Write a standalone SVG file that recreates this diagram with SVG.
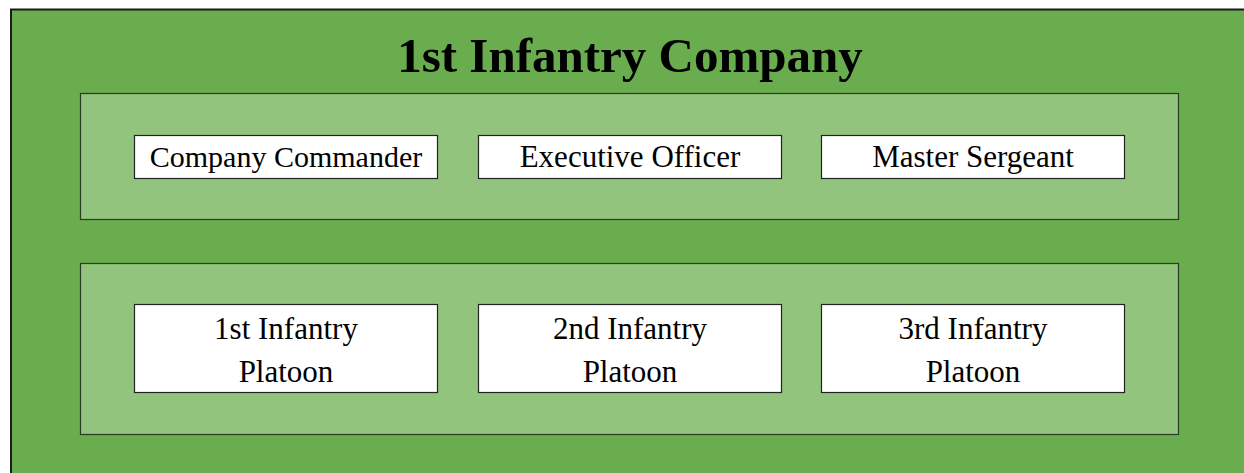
<svg xmlns="http://www.w3.org/2000/svg" width="1244" height="473" viewBox="0 0 1244 473">
<style>
.outer{fill:#6aad4e;stroke:#1a1a1a;stroke-width:2}
.panel{fill:#93c47d;stroke:#2a3a24;stroke-width:1.2}
.box{fill:#ffffff;stroke:#222;stroke-width:1.2}
.title{font-family:"Liberation Serif","Times New Roman",serif;font-weight:bold;font-size:49px;fill:#000;text-anchor:middle}
.lbl{font-family:"Liberation Serif","Times New Roman",serif;font-size:31px;fill:#000;text-anchor:middle}
.lbl2{font-family:"Liberation Serif","Times New Roman",serif;font-size:31px;fill:#000;text-anchor:middle}
</style>
<rect x="0" y="0" width="1244" height="473" fill="#ffffff"/>
<g id="company">
<rect class="outer" x="11" y="9.5" width="1300" height="500"/>
<text class="title" x="630" y="72">1st Infantry Company</text>
</g>
<g id="hq-panel">
<rect class="panel" x="80.5" y="93.5" width="1098" height="126"/>
</g>
<g id="platoon-panel">
<rect class="panel" x="80.5" y="263.5" width="1098" height="171"/>
</g>
<g id="company-commander">
<rect class="box" x="134.5" y="135.5" width="303" height="43"/>
<text class="lbl" x="286" y="167" style="font-size:30px">Company Commander</text>
</g>
<g id="executive-officer">
<rect class="box" x="478.5" y="135.5" width="303" height="43"/>
<text class="lbl" x="630" y="167">Executive Officer</text>
</g>
<g id="master-sergeant">
<rect class="box" x="821.5" y="135.5" width="303" height="43"/>
<text class="lbl" x="973" y="167">Master Sergeant</text>
</g>
<g id="platoon-1">
<rect class="box" x="134.5" y="304.5" width="303" height="88"/>
<text class="lbl2" x="286" y="339">1st Infantry</text>
<text class="lbl2" x="286" y="382">Platoon</text>
</g>
<g id="platoon-2">
<rect class="box" x="478.5" y="304.5" width="303" height="88"/>
<text class="lbl2" x="630" y="339">2nd Infantry</text>
<text class="lbl2" x="630" y="382">Platoon</text>
</g>
<g id="platoon-3">
<rect class="box" x="821.5" y="304.5" width="303" height="88"/>
<text class="lbl2" x="973" y="339">3rd Infantry</text>
<text class="lbl2" x="973" y="382">Platoon</text>
</g>
<g id="connectors"></g>
</svg>
